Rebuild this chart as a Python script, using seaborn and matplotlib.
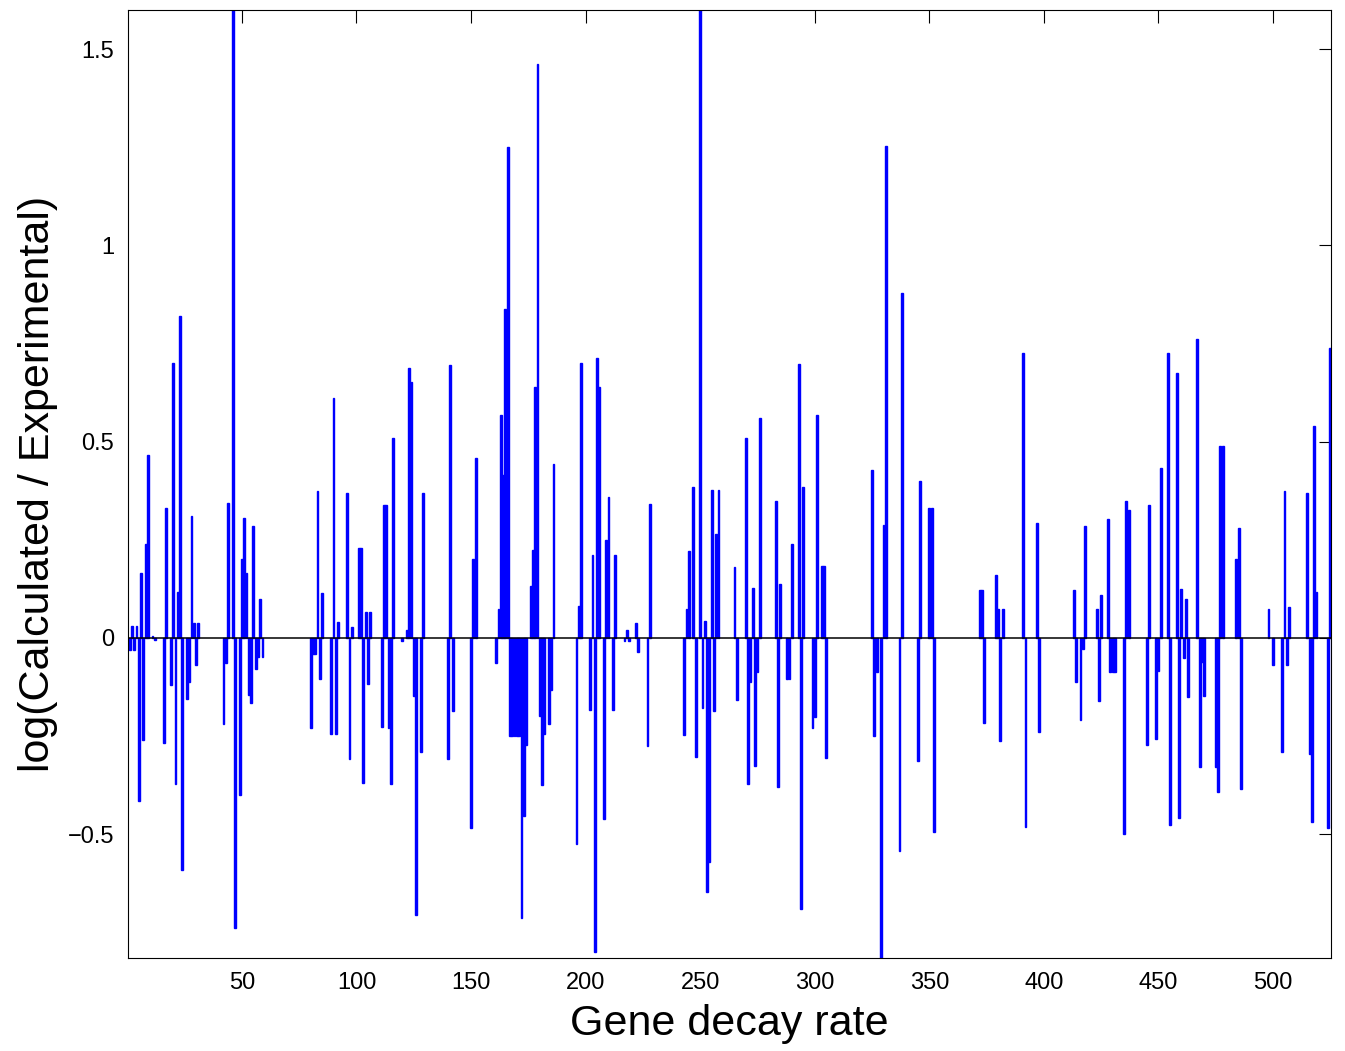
import numpy as np
import pandas as pd
import matplotlib
matplotlib.use("Agg")
import matplotlib.pyplot as plt
import seaborn as sns
from matplotlib.ticker import FuncFormatter

# ---- data (missing indices are zero) ----
gene_index = [
    1, 2, 3, 4, 5, 6, 7, 8, 9, 11, 12, 16, 17, 19, 20, 21, 22, 23, 24, 26, 27, 28, 29, 30, 31,
    42, 43, 44, 46, 47, 49, 50, 51, 52, 53, 54, 55, 56, 57, 58, 59,
    80, 81, 82, 83, 84, 85, 89, 90, 91, 92, 96, 97, 98, 101, 102, 103, 104, 105, 106,
    111, 112, 113, 114, 115, 116, 120, 122, 123, 124, 125, 126, 128, 129, 140, 141, 142,
    150, 151, 152, 161, 162, 163, 164, 165, 166, 167, 168, 169, 170, 171, 172, 173, 174,
    176, 177, 178, 179, 180, 181, 182, 184, 185, 186,
    196, 197, 198, 202, 203, 204, 205, 206, 208, 209, 210, 212, 213, 217, 218, 219, 222, 223,
    227, 228, 243, 244, 245, 247, 248, 250, 251, 252, 253, 254, 255, 256, 257, 258,
    265, 266, 270, 271, 272, 273, 274, 275, 276, 283, 284, 285, 288, 289, 290, 293, 294, 295,
    299, 300, 301, 303, 304, 305, 325, 326, 327, 329, 330, 331, 337, 338, 345, 346, 350, 351,
    352, 372, 373, 374, 379, 380, 381, 382, 391, 392, 397, 398, 413, 414, 416, 417, 418,
    423, 424, 425, 428, 429, 430, 431, 435, 436, 437, 445, 446, 449, 450, 451, 454, 455,
    458, 459, 460, 461, 462, 463, 467, 468, 469, 470, 475, 476, 477, 478, 484, 485, 486,
    498, 500, 504, 505, 506, 507, 515, 516, 517, 518, 519, 524, 525,
]
log_ratio = [
    -0.03, 0.03, -0.03, 0.03, -0.416, 0.166, -0.26, 0.239, 0.466, 0.005, -0.005, -0.267, 0.33,
    -0.121, 0.70, -0.373, 0.116, 0.82, -0.593, -0.155, -0.112, 0.31, 0.037, -0.07, 0.037,
    -0.22, -0.065, 0.343, 1.6, -0.74, -0.40, 0.20, 0.305, 0.165, -0.145, -0.165, 0.285, -0.08,
    -0.05, 0.10, -0.05,
    -0.23, -0.04, -0.04, 0.375, -0.105, 0.115, -0.245, 0.61, -0.245, 0.04, 0.368, -0.31, 0.028,
    0.228, 0.228, -0.37, 0.065, -0.117, 0.065,
    -0.228, 0.339, 0.339, -0.23, -0.373, 0.51, -0.008, 0.019, 0.688, 0.652, -0.148, -0.707,
    -0.29, 0.368, -0.31, 0.696, -0.186,
    -0.485, 0.20, 0.458, -0.065, 0.073, 0.567, 0.415, 0.838, 1.25, -0.25, -0.25, -0.25, -0.25,
    -0.25, -0.714, -0.453, -0.272,
    0.132, 0.225, 0.64, 1.463, -0.199, -0.376, -0.244, -0.22, -0.132, 0.443,
    -0.525, 0.08, 0.70, -0.183, 0.21, -0.80, 0.714, 0.64, -0.463, 0.25, 0.36, -0.183, 0.21,
    -0.008, 0.019, -0.008, 0.039, -0.036,
    -0.275, 0.342, -0.248, 0.073, 0.22, 0.384, -0.303, 1.6, -0.18, 0.043, -0.649, -0.571,
    0.376, -0.186, 0.264, 0.376,
    0.18, -0.158, 0.51, -0.373, -0.113, 0.127, -0.326, -0.088, 0.559, 0.349, -0.38, 0.137,
    -0.104, -0.104, 0.239, 0.699, -0.691, 0.384,
    -0.23, -0.202, 0.567, 0.183, 0.183, -0.306, 0.427, -0.25, -0.088, -0.816, 0.287, 1.253,
    -0.543, 0.88, -0.314, 0.40, 0.331, 0.331,
    -0.494, 0.121, 0.121, -0.217, 0.161, 0.073, -0.264, 0.073, 0.727, -0.481, 0.292, -0.241,
    0.121, -0.112, -0.21, -0.028, 0.284,
    0.073, -0.16, 0.109, 0.303, -0.088, -0.088, -0.088, -0.50, 0.349, 0.326, -0.272, 0.339,
    -0.259, -0.085, 0.432, 0.727, -0.478,
    0.675, -0.458, 0.124, -0.051, 0.098, -0.15, 0.761, -0.329, -0.062, -0.148, -0.33, -0.393,
    0.489, 0.489, 0.20, 0.28, -0.385,
    0.073, -0.07, -0.292, 0.373, -0.07, 0.078, 0.37, -0.295, -0.47, 0.54, 0.116, -0.485, 0.738,
]
x_ticks = [50, 100, 150, 200, 250, 300, 350, 400, 450, 500]
y_ticks = [-0.5, 0, 0.5, 1, 1.5]
x_label = "Gene decay rate"
y_label = "log(Calculated / Experimental)"

df = pd.DataFrame({"gene": gene_index, "ratio": log_ratio})

# ---- styling ----
sns.set_style("white")
plt.rcParams["font.family"] = ["Liberation Sans", "DejaVu Sans"]
plt.rcParams["text.color"] = "black"
plt.rcParams["axes.labelcolor"] = "black"

fig = plt.figure(figsize=(13.45, 10.51), dpi=100)
ax = fig.add_axes([128 / 1345, 1 - 958 / 1051, (1331 - 128) / 1345, (958 - 10) / 1051])

sns.barplot(data=df, x="gene", y="ratio", native_scale=True, color="#0000ff",
            saturation=1, width=0.8, errorbar=None, edgecolor="#0000ff",
            linewidth=1.0, ax=ax)

ax.axhline(0, color="black", lw=1.1, zorder=5)

ax.set_xlim(0.3, 525.3)
ax.set_ylim(-0.816, 1.6)
ax.set_xticks(x_ticks)
ax.set_yticks(y_ticks)
ax.yaxis.set_major_formatter(FuncFormatter(lambda v, p: ("%g" % v).replace("-", "\u2212")))
ax.xaxis.set_major_formatter(FuncFormatter(lambda v, p: "%d" % v))

ax.tick_params(direction="in", length=9, width=0.8, top=True, right=True,
               labelsize=17, colors="black", labelcolor="black", pad=10)
for s in ax.spines.values():
    s.set_visible(True)
    s.set_color("black")
    s.set_linewidth(0.8)

ax.set_xlabel(x_label, fontsize=31, labelpad=7, color="black")
ax.set_ylabel(y_label, fontsize=31, labelpad=7, color="black")

fig.savefig("out.png", dpi=100)
